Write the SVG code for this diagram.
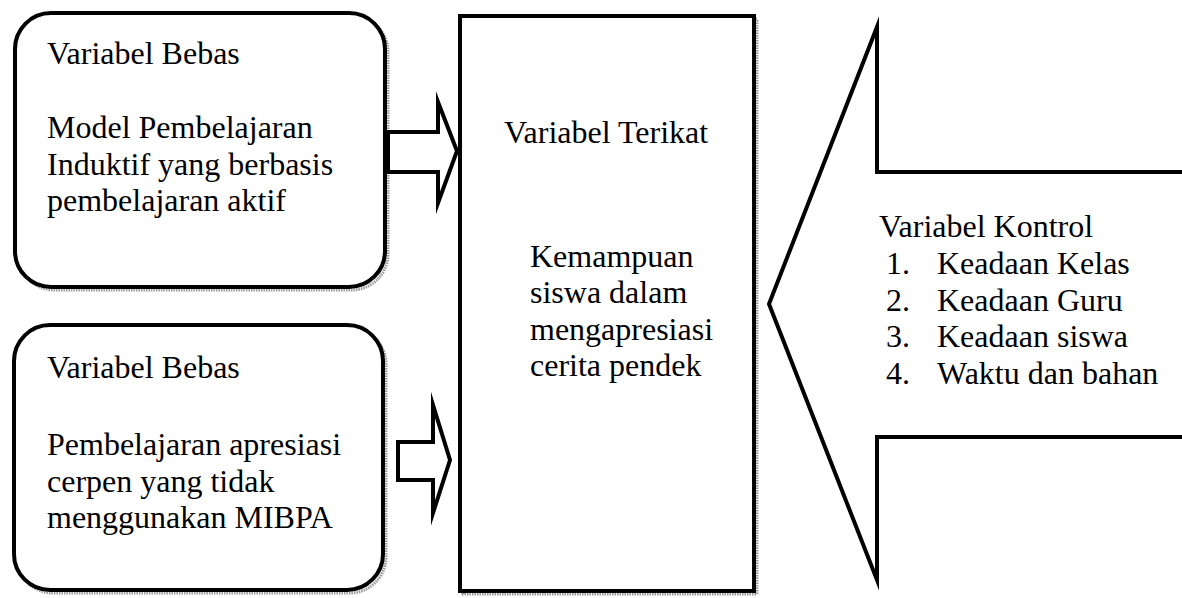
<svg xmlns="http://www.w3.org/2000/svg" width="1182" height="598" viewBox="0 0 1182 598">
  <style>
    .t { font-family: "Liberation Serif", "Times New Roman", serif; font-size: 32px; fill: #000; }
    .box { fill: #fff; stroke: #000; stroke-width: 4; }
    .shadow { fill: none; stroke: #999; stroke-width: 3; stroke-dasharray: 1.5 1; }
    .arrow { fill: #fff; stroke: #000; stroke-width: 4; stroke-linejoin: miter; stroke-miterlimit: 10; }
  </style>
  <rect width="1182" height="598" fill="#fff"/>

  <g id="bebas1">
    <rect class="shadow" x="18" y="16" width="370" height="274" rx="36"/>
    <rect class="box" x="15" y="13" width="370" height="274" rx="36"/>
    <text class="t" x="47" y="64">Variabel Bebas</text>
    <text class="t" x="47" y="138">Model Pembelajaran</text>
    <text class="t" x="47" y="175">Induktif yang berbasis</text>
    <text class="t" x="47" y="211">pembelajaran aktif</text>
  </g>

  <g id="bebas2">
    <rect class="shadow" x="17" y="328" width="369" height="265" rx="36"/>
    <rect class="box" x="14" y="325" width="369" height="265" rx="36"/>
    <text class="t" x="47" y="378">Variabel Bebas</text>
    <text class="t" x="47" y="455">Pembelajaran apresiasi</text>
    <text class="t" x="47" y="492">cerpen  yang tidak</text>
    <text class="t" x="47" y="528">menggunakan MIBPA</text>
  </g>

  <g id="terikat">
    <rect class="shadow" x="463" y="19" width="294" height="575"/>
    <rect class="box" x="460" y="16" width="294" height="575"/>
    <text class="t" x="504" y="143">Variabel Terikat</text>
    <text class="t" x="530" y="267">Kemampuan</text>
    <text class="t" x="530" y="303">siswa dalam</text>
    <text class="t" x="530" y="340">mengapresiasi</text>
    <text class="t" x="530" y="376">cerita pendek</text>
  </g>

  <g id="kontrol">
    <polygon class="arrow" points="769,304 877,27 877,172 1190,172 1190,437 877,437 877,580"/>
    <text class="t" x="879" y="237">Variabel Kontrol</text>
    <text class="t" x="886" y="274">1.</text>
    <text class="t" x="937" y="274">Keadaan Kelas</text>
    <text class="t" x="886" y="311">2.</text>
    <text class="t" x="937" y="311">Keadaan Guru</text>
    <text class="t" x="886" y="347">3.</text>
    <text class="t" x="937" y="347">Keadaan siswa</text>
    <text class="t" x="886" y="384">4.</text>
    <text class="t" x="937" y="384">Waktu dan bahan</text>
  </g>

  <g id="connectors">
    <polygon class="arrow" points="388,132 438,132 438,102 457,151 438,203 438,172 388,172"/>
    <polygon class="arrow" points="398,442 433,442 433,405 450,460 433,513 433,480 398,480"/>
  </g>
</svg>
